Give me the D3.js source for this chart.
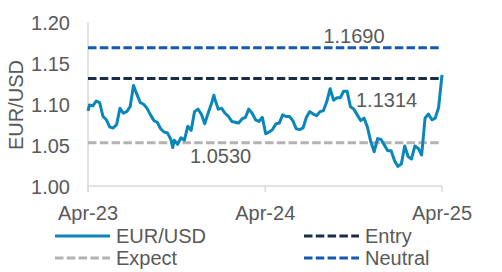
<!DOCTYPE html>
<html><head><meta charset="utf-8">
<script src="https://cdn.jsdelivr.net/npm/d3@7"></script>
<style>html,body{margin:0;padding:0;background:#fff;}svg{display:block;}</style>
</head><body>
<svg id="c" width="502" height="272"></svg>
<script>
const dates = ["2023-04-11","2023-04-14","2023-04-21","2023-04-28","2023-05-05","2023-05-12","2023-05-19","2023-05-26","2023-06-02","2023-06-09","2023-06-16","2023-06-23","2023-06-30","2023-07-07","2023-07-14","2023-07-21","2023-07-28","2023-08-04","2023-08-11","2023-08-18","2023-08-25","2023-09-01","2023-09-08","2023-09-15","2023-09-22","2023-09-29","2023-10-03","2023-10-06","2023-10-13","2023-10-20","2023-10-27","2023-11-03","2023-11-10","2023-11-17","2023-11-24","2023-12-01","2023-12-08","2023-12-15","2023-12-22","2023-12-27","2023-12-29","2024-01-05","2024-01-12","2024-01-19","2024-01-26","2024-02-02","2024-02-09","2024-02-16","2024-02-23","2024-03-01","2024-03-08","2024-03-15","2024-03-22","2024-03-29","2024-04-05","2024-04-12","2024-04-19","2024-04-26","2024-05-03","2024-05-10","2024-05-17","2024-05-24","2024-05-31","2024-06-07","2024-06-14","2024-06-21","2024-06-28","2024-07-05","2024-07-12","2024-07-19","2024-07-26","2024-08-02","2024-08-09","2024-08-16","2024-08-23","2024-08-30","2024-09-06","2024-09-13","2024-09-20","2024-09-27","2024-10-04","2024-10-11","2024-10-18","2024-10-25","2024-11-01","2024-11-08","2024-11-15","2024-11-22","2024-11-29","2024-12-06","2024-12-13","2024-12-20","2024-12-27","2025-01-03","2025-01-10","2025-01-17","2025-01-24","2025-01-31","2025-02-07","2025-02-14","2025-02-21","2025-02-28","2025-03-07","2025-03-14","2025-03-21","2025-03-28","2025-04-04","2025-04-11"];
const eurusd = [1.092,1.099,1.098,1.104,1.102,1.085,1.081,1.072,1.071,1.075,1.095,1.089,1.091,1.097,1.123,1.112,1.102,1.100,1.095,1.087,1.080,1.078,1.070,1.066,1.065,1.057,1.047,1.056,1.051,1.059,1.056,1.073,1.068,1.091,1.094,1.088,1.076,1.089,1.101,1.111,1.106,1.094,1.095,1.089,1.085,1.079,1.078,1.077,1.082,1.084,1.094,1.089,1.081,1.079,1.084,1.064,1.066,1.069,1.076,1.077,1.087,1.085,1.085,1.080,1.070,1.069,1.071,1.084,1.091,1.088,1.086,1.091,1.092,1.103,1.119,1.105,1.108,1.108,1.116,1.116,1.097,1.094,1.087,1.080,1.083,1.072,1.054,1.042,1.058,1.057,1.050,1.043,1.043,1.031,1.024,1.027,1.049,1.036,1.033,1.049,1.046,1.038,1.083,1.088,1.081,1.083,1.096,1.136];
const levels = [{name:"Entry", value:1.1314}, {name:"Expect", value:1.0530}, {name:"Neutral", value:1.1690}];
const yTicks = [1.00,1.05,1.10,1.15,1.20];
const xTickDates = ["2023-04-11","2024-04-11","2025-04-11"];
const xTickLabels = ["Apr-23","Apr-24","Apr-25"];
const legendItems = ["EUR/USD","Entry","Expect","Neutral"];

const parse = d3.timeParse("%Y-%m-%d");
const series = dates.map((d,i)=>({date:parse(d), v:eurusd[i]}));
const colors = {"EUR/USD":"#0a86b8","Entry":"#1b2d45","Expect":"#b3b3b3","Neutral":"#1558b0"};
const font = "'Liberation Sans', Arial, sans-serif";
const textCol = "#595959";

const svg = d3.select("#c");
const x = d3.scaleTime().domain([parse(dates[0]), parse(dates[dates.length-1])]).range([88,442]);
const y = d3.scaleLinear().domain([1.0,1.2]).range([186,22.5]);

// axes lines
svg.append("line").attr("x1",88).attr("x2",88).attr("y1",y(1.2)).attr("y2",192).attr("stroke","#d9d9d9").attr("stroke-width",1.5);
svg.append("line").attr("x1",88).attr("x2",442).attr("y1",186).attr("y2",186).attr("stroke","#d9d9d9").attr("stroke-width",1.5);
xTickDates.forEach(d=>{
  svg.append("line").attr("x1",x(parse(d))).attr("x2",x(parse(d))).attr("y1",186).attr("y2",192).attr("stroke","#d9d9d9").attr("stroke-width",1.5);
});

// y tick labels
svg.selectAll(".yt").data(yTicks).enter().append("text")
  .attr("x",70).attr("y",d=>y(d)+7.5).attr("text-anchor","end")
  .attr("font-family",font).attr("font-size",20).attr("fill",textCol)
  .text(d=>d3.format(".2f")(d));
// x tick labels
svg.selectAll(".xt").data(xTickDates).enter().append("text")
  .attr("x",d=>x(parse(d))).attr("y",219.5).attr("text-anchor","middle")
  .attr("font-family",font).attr("font-size",20).attr("fill",textCol)
  .text((d,i)=>xTickLabels[i]);
// y title
svg.append("text").attr("transform","translate(23,105) rotate(-90)").attr("text-anchor","middle")
  .attr("font-family",font).attr("font-size",20).attr("fill",textCol).text("EUR/USD");

// level lines
levels.forEach(l=>{
  svg.append("line").attr("x1",88).attr("x2",442).attr("y1",y(l.value)).attr("y2",y(l.value))
    .attr("stroke",colors[l.name]).attr("stroke-width",3).attr("stroke-dasharray","8.5,3.3");
});

// series
svg.append("path").datum(series)
  .attr("d",d3.line().x(d=>x(d.date)).y(d=>y(d.v)))
  .attr("fill","none").attr("stroke",colors["EUR/USD"]).attr("stroke-width",3).attr("stroke-linejoin","round");

// annotations
const ann = [{v:levels[2].value, x:354, dy:-4.5, anchor:"middle"},
             {v:levels[0].value, x:356, dy:28.5, anchor:"start"},
             {v:levels[1].value, x:190, dy:20.5, anchor:"start"}];
ann.forEach(a=>{
  svg.append("text").attr("x",a.x).attr("y",y(a.v)+a.dy).attr("text-anchor",a.anchor)
    .attr("font-family",font).attr("font-size",20).attr("fill",textCol).text(d3.format(".4f")(a.v));
});

// legend
const legPos = [{x:55,y:236},{x:304,y:236},{x:55,y:258},{x:304,y:258}];
legendItems.forEach((n,i)=>{
  const p = legPos[i];
  const ln = svg.append("line").attr("x1",p.x).attr("x2",p.x+55).attr("y1",p.y).attr("y2",p.y)
    .attr("stroke",colors[n]).attr("stroke-width",3);
  if(n!=="EUR/USD") ln.attr("stroke-dasharray","8.5,3.3");
  svg.append("text").attr("x",p.x+61).attr("y",p.y+7).attr("font-family",font).attr("font-size",20)
    .attr("fill",textCol).text(n);
});
</script>
</body></html>
